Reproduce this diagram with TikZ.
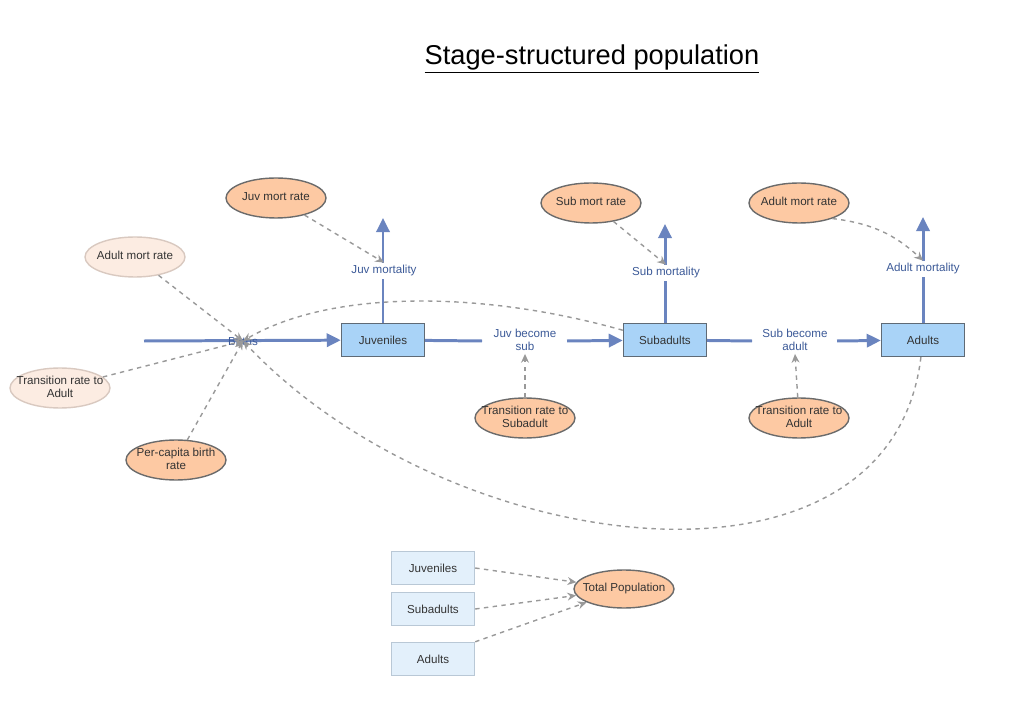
\documentclass[tikz,border=0pt]{standalone}
\usepackage{fontspec}
\setmainfont{Liberation Sans}
\usetikzlibrary{arrows.meta}
\usetikzlibrary{shapes.geometric}

\definecolor{flowblue}{RGB}{106,132,191}
\definecolor{labblue}{RGB}{60,90,152}
\definecolor{stockfill}{RGB}{169,211,247}
\definecolor{stockline}{RGB}{95,106,117}
\definecolor{ratefill}{RGB}{253,201,163}
\definecolor{rateline}{RGB}{107,107,107}
\definecolor{ghostfill}{RGB}{252,236,226}
\definecolor{ghostline}{RGB}{217,201,192}
\definecolor{aliasfill}{RGB}{227,240,251}
\definecolor{aliasline}{RGB}{185,200,214}
\definecolor{linkgray}{RGB}{153,153,153}
\definecolor{textdark}{RGB}{51,51,51}

% zero-size text so the ellipse keeps its own size
\newcommand{\ztext}[1]{\smash{\makebox[0pt]{\raisebox{-1.8pt}{\begin{tabular}{@{}c@{}}#1\end{tabular}}}}}

\begin{document}
\begin{tikzpicture}[x=0.02cm,y=-0.02cm,
    font=\fontsize{6.6}{7.6}\selectfont,
    stock/.style={draw=stockline, fill=stockfill, line width=0.8pt,
        minimum width=1.66cm, minimum height=0.66cm, inner sep=0pt, text=textdark},
    alias/.style={stock, draw=aliasline, fill=aliasfill},
    rate/.style={ellipse, draw=rateline, fill=ratefill, line width=0.8pt,
        minimum width=2cm, minimum height=0.8cm, inner sep=0pt, text=textdark},
    ghost/.style={rate, draw=ghostline, fill=ghostfill},
    flowlab/.style={fill=white, inner sep=1.5pt, align=center, text=labblue},
    flow/.style={draw=flowblue, line width=1.7pt},
    flowto/.style={flow, -{Triangle[length=8pt,width=7.5pt]}},
    link/.style={draw=linkgray, line width=0.8pt, dash pattern=on 2.5pt off 2.5pt,
        -{Stealth[length=5pt,width=4.5pt]}}]
  \useasboundingbox (0,0) rectangle (1027,712);

  \node[font=\fontsize{15.5}{17}\selectfont] (title) at (592,59)
      {\underline{Stage-structured population}};

  % stocks
  \node[stock] (juv) at (383,340) {Juveniles};
  \node[stock] (sub) at (665,340) {Subadults};
  \node[stock] (adu) at (923,340) {Adults};

  % sources and sinks of the flows
  \coordinate (src) at (144,341);
  \coordinate (juvsink) at (383,218);
  \coordinate (subsink) at (665,224);
  \coordinate (adusink) at (923,217);

  % flows
  \draw[flowto] (src) -- (juv);
  \draw[flow] (juv) -- (482,341);
  \draw[flowto] (567,341) -- (sub);
  \draw[flow] (sub) -- (752,341);
  \draw[flowto] (837,341) -- (adu);
  \draw[flowto] (juv) -- (juvsink);
  \draw[flowto] (sub) -- (subsink);
  \draw[flowto] (adu) -- (adusink);

  \node[text=labblue, inner sep=0pt] (births) at (243,341) {Births};
  \node[flowlab] (juvsub) at (525,340) {Juv become\\sub};
  \node[flowlab] (subadu) at (795,340) {Sub become\\adult};
  \node[flowlab] (juvmort) at (384,271) {Juv mortality};
  \node[flowlab] (submort) at (666,273) {Sub mortality};
  \node[flowlab] (adumort) at (923,269) {Adult mortality};

  % rates
  \node[rate] (juvrate) at (276,198) {\ztext{Juv mort rate}};
  \node[rate] (subrate) at (591,203) {\ztext{Sub mort rate}};
  \node[rate] (adurate) at (799,203) {\ztext{Adult mort rate}};
  \node[rate] (trsub) at (525,418) {\ztext{Transition rate to\\Subadult}};
  \node[rate] (tradu) at (799,418) {\ztext{Transition rate to\\Adult}};
  \node[rate] (birthrate) at (176,460) {\ztext{Per-capita birth\\rate}};
  \node[ghost] (aduratez) at (135,257) {\ztext{Adult mort rate}};
  \node[ghost] (tradugz) at (60,388) {\ztext{Transition rate to\\Adult}};

  % links
  \draw[link] (juvrate) -- (juvmort.north);
  \draw[link] (subrate) -- (submort.north);
  \draw[link] (adurate.-25) to[bend left=18] (adumort.north);
  \draw[link] (trsub) -- (juvsub.south);
  \draw[link] (tradu) -- (subadu.south);
  \draw[link] (aduratez) -- (births.center);
  \draw[link] (tradugz) -- (births.center);
  \draw[link] (birthrate) -- (births.center);
  \draw[link] (sub.167) .. controls (480,290) and (330,290) .. (births.center);
  \draw[link] (adu.-97) .. controls (890,615) and (450,560) .. (births.center);

  % totals
  \node[alias] (juvz) at (433,568) {Juveniles};
  \node[alias] (subz) at (433,609) {Subadults};
  \node[alias] (aduz) at (433,659) {Adults};
  \node[rate, minimum height=0.76cm] (total) at (624,589) {\ztext{Total Population}};
  \draw[link] (juvz.east) -- (total);
  \draw[link] (subz.east) -- (total);
  \draw[link] (aduz.north east) -- (total);
\end{tikzpicture}
\end{document}
